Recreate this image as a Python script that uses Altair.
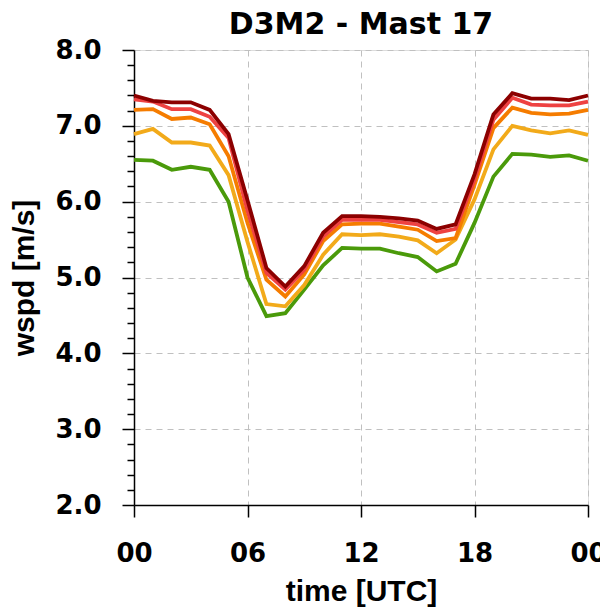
import altair as alt
import pandas as pd

hours = list(range(25))

green = [6.55, 6.54, 6.42, 6.46, 6.42, 6.00, 5.00, 4.49, 4.53, 4.84, 5.16, 5.39, 5.38,
         5.38, 5.32, 5.27, 5.08, 5.18, 5.72, 6.33, 6.63, 6.62, 6.59, 6.61, 6.54]
yellow = [6.89, 6.96, 6.78, 6.78, 6.74, 6.35, 5.47, 4.65, 4.62, 4.90, 5.30, 5.57, 5.56,
          5.57, 5.54, 5.49, 5.32, 5.50, 6.03, 6.69, 7.00, 6.94, 6.90, 6.94, 6.88]
orange = [7.21, 7.22, 7.09, 7.11, 7.02, 6.60, 5.72, 4.97, 4.75, 5.04, 5.48, 5.70, 5.71,
          5.71, 5.67, 5.63, 5.48, 5.52, 6.22, 6.97, 7.24, 7.17, 7.15, 7.16, 7.21]
red = [7.35, 7.32, 7.22, 7.22, 7.12, 6.84, 5.88, 5.06, 4.84, 5.10, 5.54, 5.76, 5.76,
       5.76, 5.73, 5.70, 5.59, 5.64, 6.29, 7.08, 7.37, 7.28, 7.27, 7.27, 7.32]
darkred = [7.40, 7.33, 7.31, 7.31, 7.21, 6.89, 6.02, 5.125, 4.88, 5.15, 5.59, 5.81, 5.81,
           5.80, 5.78, 5.75, 5.64, 5.70, 6.36, 7.15, 7.43, 7.36, 7.36, 7.34, 7.40]

series_names = ["s1", "s2", "s3", "s4", "s5"]
series_values = [green, yellow, orange, red, darkred]
series_colors = ["#4A9A0A", "#F2AA1A", "#F57C00", "#EE4242", "#8C0000"]

chart_title = ["D3M2 - Mast 17"]
x_ticks = [0, 6, 12, 18, 24]
y_ticks = [round(2 + 0.2 * i, 1) for i in range(31)]

PLOT_W = 454
PLOT_H = 455

rows = []
for k, (name, vals) in enumerate(zip(series_names, series_values)):
    for h, v in zip(hours, vals):
        rows.append({"hour": h, "wspd": v, "series": name, "k": k})
df = pd.DataFrame(rows)

is_major = "abs(datum.value - round(datum.value)) < 0.001"

x_axis = alt.Axis(
    values=x_ticks,
    labelExpr="(datum.value == 0 || datum.value == 24) ? '00' : (datum.value < 10 ? '0' + datum.value : '' + datum.value)",
    title="time [UTC]",
    tickSize=12, tickWidth=1.5, tickColor="black",
    domainColor="black", domainWidth=1.5,
    grid=True, gridDash=[6, 5], gridColor="#c0c0c0", gridWidth=1,
    labelFont="DejaVu Sans", labelFontSize=26, labelFontWeight="bold", labelColor="black",
    labelPadding=23, labelFlush=False, labelOverlap=False,
    titleFont="Liberation Sans", titleFontSize=30, titleFontWeight="bold", titleColor="black",
    titleBaseline="alphabetic", titleY=95,
)

y_axis = alt.Axis(
    values=y_ticks,
    labelExpr=is_major + " ? format(datum.value, '.1f') : ''",
    title="wspd [m/s]",
    tickSize={"condition": {"test": is_major, "value": 12}, "value": 7},
    tickWidth=1.5, tickColor="black",
    domainColor="black", domainWidth=1.5,
    grid=True, gridDash=[6, 5], gridColor="#c0c0c0", gridWidth=1,
    gridOpacity={"condition": {"test": is_major, "value": 1}, "value": 0},
    labelFont="DejaVu Sans", labelFontSize=26, labelFontWeight="bold", labelColor="black",
    labelPadding=21, labelOverlap=False,
    titleFont="Liberation Sans", titleFontSize=30, titleFontWeight="bold", titleColor="black",
    titleBaseline="alphabetic", titleAngle=270, titleX=-101, titleY=227.5,
)

lines = alt.Chart(df).mark_line(strokeWidth=3.8).encode(
    x=alt.X("hour:Q", scale=alt.Scale(domain=[0, 24], nice=False, zero=False), axis=x_axis),
    y=alt.Y("wspd:Q", scale=alt.Scale(domain=[2, 8], nice=False, zero=False), axis=y_axis),
    color=alt.Color("series:N", scale=alt.Scale(domain=series_names, range=series_colors), legend=None),
    order=alt.Order("hour:Q"),
)

title_text = alt.Chart(pd.DataFrame({"t": chart_title})).mark_text(
    font="DejaVu Sans", fontSize=30, fontWeight="bold", color="black",
    align="center", baseline="alphabetic",
).encode(
    text="t:N",
    x=alt.value(PLOT_W / 2),
    y=alt.value(-16),
)

chart = alt.layer(lines, title_text).properties(
    width=PLOT_W,
    height=PLOT_H,
    padding={"left": 126, "top": 42, "right": 12, "bottom": 102},
    autosize=alt.AutoSizeParams(type="none"),
).configure_view(
    stroke="black", strokeWidth=1.5
).configure(background="white")

chart.save("out.html", embed_options={"renderer": "svg", "actions": False})
